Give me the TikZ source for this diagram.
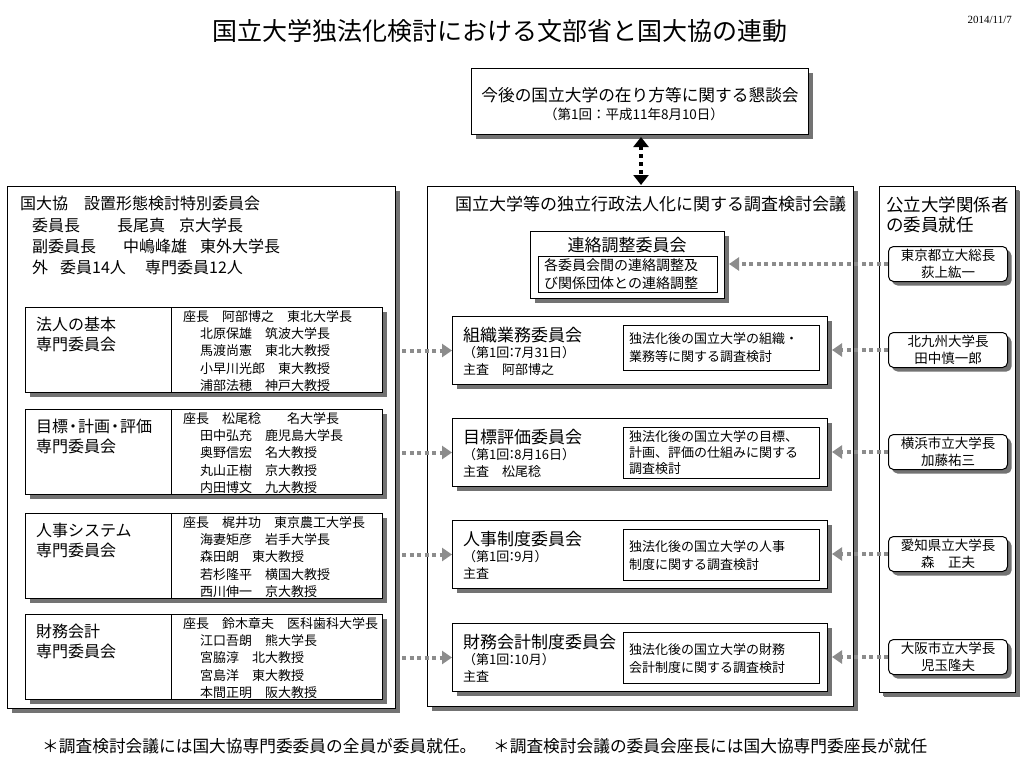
\documentclass[tikz,border=0pt]{standalone}
\usepackage{fontspec}
\setmainfont{Noto Sans CJK JP}
\newfontfamily\tms{Liberation Serif}
\usetikzlibrary{arrows.meta,shadows,calc}
\newcommand\fsz[2]{\fontsize{#1pt}{#2pt}\selectfont}
\definecolor{shadowgray}{RGB}{115,115,115}
\definecolor{arrowgray}{RGB}{140,140,140}
\begin{document}
\begin{tikzpicture}[x=1pt,y=-1pt,
  box/.style={draw=black, line width=1pt, fill=white, inner sep=0, anchor=north west,
    drop shadow={shadow xshift=4pt, shadow yshift=-4pt, fill=shadowgray, opacity=1}},
  rbox/.style={box, rounded corners=5pt, drop shadow={shadow xshift=3pt, shadow yshift=-3pt, fill=shadowgray, opacity=1}},
  plainbox/.style={draw=black, line width=0.8pt, fill=white, inner sep=0, anchor=north west},
  txt/.style={inner sep=0, anchor=west, align=left},
  ctxt/.style={inner sep=0, align=center},
  garrow/.style={draw=arrowgray, line width=4pt, dash pattern=on 4pt off 3.5pt,
    -{Triangle[width=13pt,length=10pt,fill=arrowgray]}},
  barrow/.style={draw=black, line width=4.5pt, dash pattern=on 4pt off 4pt,
    {Triangle[width=15pt,length=10pt]}-{Triangle[width=15pt,length=10pt]}},
  f13/.style={font=\fsz{13}{17.3}},
  f16/.style={font=\fsz{16}{20}},
  f17/.style={font=\fsz{17}{20}}
]
\fill[white] (0,0) rectangle (1024,768);
\useasboundingbox (0,0) rectangle (1024,768);

% title and date
\node[ctxt, font=\fsz{25}{29}] (title) at (500,31) {国立大学独法化検討における文部省と国大協の連動};
\node[inner sep=0, anchor=east, font=\tms\fsz{11}{13}] (date) at (1012,20) {2014/11/7};

% top box
\node[box, minimum width=337pt, minimum height=66pt] (top) at (471,68) {};
\node[ctxt, font=\fsz{16.7}{20}] (topa) at (640,95) {今後の国立大学の在り方等に関する懇談会};
\node[ctxt, font=\fsz{13.5}{16}] (topb) at (634,114) {（第1回：平成11年8月10日）};

% ---------------- left big box ----------------
\node[box, minimum width=388pt, minimum height=522pt] (lbig) at (7,186) {};
\node[txt, f16] (lh) at (20,203) {国大協　設置形態検討特別委員会};
\node[txt, f16] (l2a) at (32,225) {委員長};
\node[txt, f16] (l2b) at (117,225) {長尾真};
\node[txt, f16] (l2c) at (179,225) {京大学長};
\node[txt, f16] (l3a) at (32,246) {副委員長};
\node[txt, f16] (l3b) at (123,246) {中嶋峰雄};
\node[txt, f16] (l3c) at (200,246) {東外大学長};
\node[txt, f16] (l4a) at (32,267) {外};
\node[txt, f16] (l4b) at (60,267) {委員14人};
\node[txt, f16] (l4c) at (145,267) {専門委員12人};

% sub boxes
\node[box, minimum width=357pt, minimum height=85pt] (s1) at (25,307) {};
\draw[line width=1pt] ($(s1.north west)+(146,0)$) -- ($(s1.south west)+(146,0)$);
\node[txt, f16] (s1t) at (36,334) {法人の基本\\専門委員会};
\node[txt, f13] (s1m) at (183,351) {座長　阿部博之　東北大学長\\
\hspace*{17pt}北原保雄　筑波大学長\\
\hspace*{17pt}馬渡尚憲　東北大教授\\
\hspace*{17pt}小早川光郎　東大教授\\
\hspace*{17pt}浦部法穂　神戸大教授};

\node[box, minimum width=357pt, minimum height=85pt] (s2) at (25,409) {};
\draw[line width=1pt] ($(s2.north west)+(146,0)$) -- ($(s2.south west)+(146,0)$);
\node[txt, f16] (s2t) at (36,436) {目標\kern-3pt・\kern-3pt計画\kern-3pt・\kern-3pt評価\\専門委員会};
\node[txt, f13] (s2m) at (183,453) {座長　松尾稔　　名大学長\\
\hspace*{17pt}田中弘充　鹿児島大学長\\
\hspace*{17pt}奥野信宏　名大教授\\
\hspace*{17pt}丸山正樹　京大教授\\
\hspace*{17pt}内田博文　九大教授};

\node[box, minimum width=357pt, minimum height=85pt] (s3) at (25,513) {};
\draw[line width=1pt] ($(s3.north west)+(146,0)$) -- ($(s3.south west)+(146,0)$);
\node[txt, f16] (s3t) at (36,540) {人事システム\\専門委員会};
\node[txt, f13] (s3m) at (183,557) {座長　梶井功　東京農工大学長\\
\hspace*{17pt}海妻矩彦　岩手大学長\\
\hspace*{17pt}森田朗　東大教授\\
\hspace*{17pt}若杉隆平　横国大教授\\
\hspace*{17pt}西川伸一　京大教授};

\node[box, minimum width=357pt, minimum height=85pt] (s4) at (25,614) {};
\draw[line width=1pt] ($(s4.north west)+(146,0)$) -- ($(s4.south west)+(146,0)$);
\node[txt, f16] (s4t) at (36,641) {財務会計\\専門委員会};
\node[txt, f13] (s4m) at (183,658) {座長　鈴木章夫　医科歯科大学長\\
\hspace*{17pt}江口吾朗　熊大学長\\
\hspace*{17pt}宮脇淳　北大教授\\
\hspace*{17pt}宮島洋　東大教授\\
\hspace*{17pt}本間正明　阪大教授};

% ---------------- middle big box ----------------
\node[box, minimum width=426pt, minimum height=520pt] (mid) at (427,186) {};
\node[txt, f17] (midt) at (455,204) {国立大学等の独立行政法人化に関する調査検討会議};

\node[box, minimum width=194pt, minimum height=67pt] (ren) at (530,231) {};
\node[ctxt, f17] (rent) at (627,245) {連絡調整委員会};
\node[plainbox, minimum width=179pt, minimum height=36pt] (reni) at (538,256) {};
\node[txt, font=\fsz{14}{18}] (renit) at (544,274) {各委員会間の連絡調整及\\び関係団体との連絡調整};

% committees
\node[box, minimum width=375pt, minimum height=68pt] (c1) at (452,316) {};
\node[txt, f17] (c1a) at (463,335) {組織業務委員会};
\node[txt, font=\fsz{13}{16.5}] (c1b) at (463,361) {（第1回\kern-4pt：\kern-4pt7月31日）\\主査　阿部博之};
\node[plainbox, minimum width=196pt, minimum height=45pt] (c1i) at (623,325) {};
\node[txt, font=\fsz{13}{17.5}] (c1it) at (629,347.5) {独法化後の国立大学の組織・\\業務等に関する調査検討};

\node[box, minimum width=375pt, minimum height=68pt] (c2) at (452,418) {};
\node[txt, f17] (c2a) at (463,437) {目標評価委員会};
\node[txt, font=\fsz{13}{16.5}] (c2b) at (463,463) {（第1回\kern-4pt：\kern-4pt8月16日）\\主査　松尾稔};
\node[plainbox, minimum width=196pt, minimum height=51pt] (c2i) at (623,427) {};
\node[txt, font=\fsz{13}{16}] (c2it) at (629,452.5) {独法化後の国立大学の目標、\\計画、評価の仕組みに関する\\調査検討};

\node[box, minimum width=375pt, minimum height=68pt] (c3) at (452,520) {};
\node[txt, f17] (c3a) at (463,539) {人事制度委員会};
\node[txt, font=\fsz{13}{16.5}] (c3b) at (463,565) {（第1回\kern-4pt：\kern-4pt9月）\\主査};
\node[plainbox, minimum width=196pt, minimum height=51pt] (c3i) at (623,529) {};
\node[txt, font=\fsz{13}{17.5}] (c3it) at (629,555.5) {独法化後の国立大学の人事\\制度に関する調査検討};

\node[box, minimum width=375pt, minimum height=68pt] (c4) at (452,623) {};
\node[txt, f17] (c4a) at (463,642) {財務会計制度委員会};
\node[txt, font=\fsz{13}{16.5}] (c4b) at (463,668) {（第1回\kern-4pt：\kern-4pt10月）\\主査};
\node[plainbox, minimum width=196pt, minimum height=51pt] (c4i) at (623,632) {};
\node[txt, font=\fsz{13}{17.5}] (c4it) at (629,658.5) {独法化後の国立大学の財務\\会計制度に関する調査検討};

% ---------------- right column ----------------
\node[box, drop shadow={shadow xshift=3pt, shadow yshift=-3pt, fill=shadowgray, opacity=1}, minimum width=136pt, minimum height=506pt] (rcol) at (879,186) {};
\node[txt, font=\fsz{17.5}{20}] (rh) at (886,215) {公立大学関係者\\の委員就任};

\node[rbox, minimum width=119pt, minimum height=35pt, anchor=west] (r1) at (888,264) {};
\node[ctxt, font=\fsz{13.5}{17}] at (r1.center) {東京都立大総長\\荻上紘一};
\node[rbox, minimum width=119pt, minimum height=35pt, anchor=west] (r2) at (888,350) {};
\node[ctxt, font=\fsz{13.5}{17}] at (r2.center) {北九州大学長\\田中慎一郎};
\node[rbox, minimum width=119pt, minimum height=35pt, anchor=west] (r3) at (888,452) {};
\node[ctxt, font=\fsz{13.5}{17}] at (r3.center) {横浜市立大学長\\加藤祐三};
\node[rbox, minimum width=119pt, minimum height=35pt, anchor=west] (r4) at (888,554) {};
\node[ctxt, font=\fsz{13.5}{17}] at (r4.center) {愛知県立大学長\\森　正夫};
\node[rbox, minimum width=119pt, minimum height=35pt, anchor=west] (r5) at (888,657) {};
\node[ctxt, font=\fsz{13.5}{17}] at (r5.center) {大阪市立大学長\\児玉隆夫};

% ---------------- connectors ----------------
\draw[barrow] ($(top.south)+(1,2)$) -- ($(top.south |- mid.north)+(1,-1)$);

\draw[garrow] ($(lbig.east |- c1.west)+(6,0)$) -- (c1.west);
\draw[garrow] ($(lbig.east |- c2.west)+(6,0)$) -- (c2.west);
\draw[garrow] ($(lbig.east |- c3.west)+(6,0)$) -- (c3.west);
\draw[garrow] ($(lbig.east |- c4.west)+(6,0)$) -- (c4.west);

\draw[garrow] (r1.west) -- ($(ren.east |- r1.west)+(4,0)$);
\draw[garrow] (r2.west) -- ($(c1.east |- r2.west)+(4,0)$);
\draw[garrow] (r3.west) -- ($(c2.east |- r3.west)+(4,0)$);
\draw[garrow] (r4.west) -- ($(c3.east |- r4.west)+(4,0)$);
\draw[garrow] (r5.west) -- ($(c4.east |- r5.west)+(4,0)$);

% footer
\node[txt, font=\fsz{16.7}{20}] (foot) at (42,746) {＊調査検討会議には国大協専門委委員の全員が委員就任。　＊調査検討会議の委員会座長には国大協専門委座長が就任};
\end{tikzpicture}
\end{document}
